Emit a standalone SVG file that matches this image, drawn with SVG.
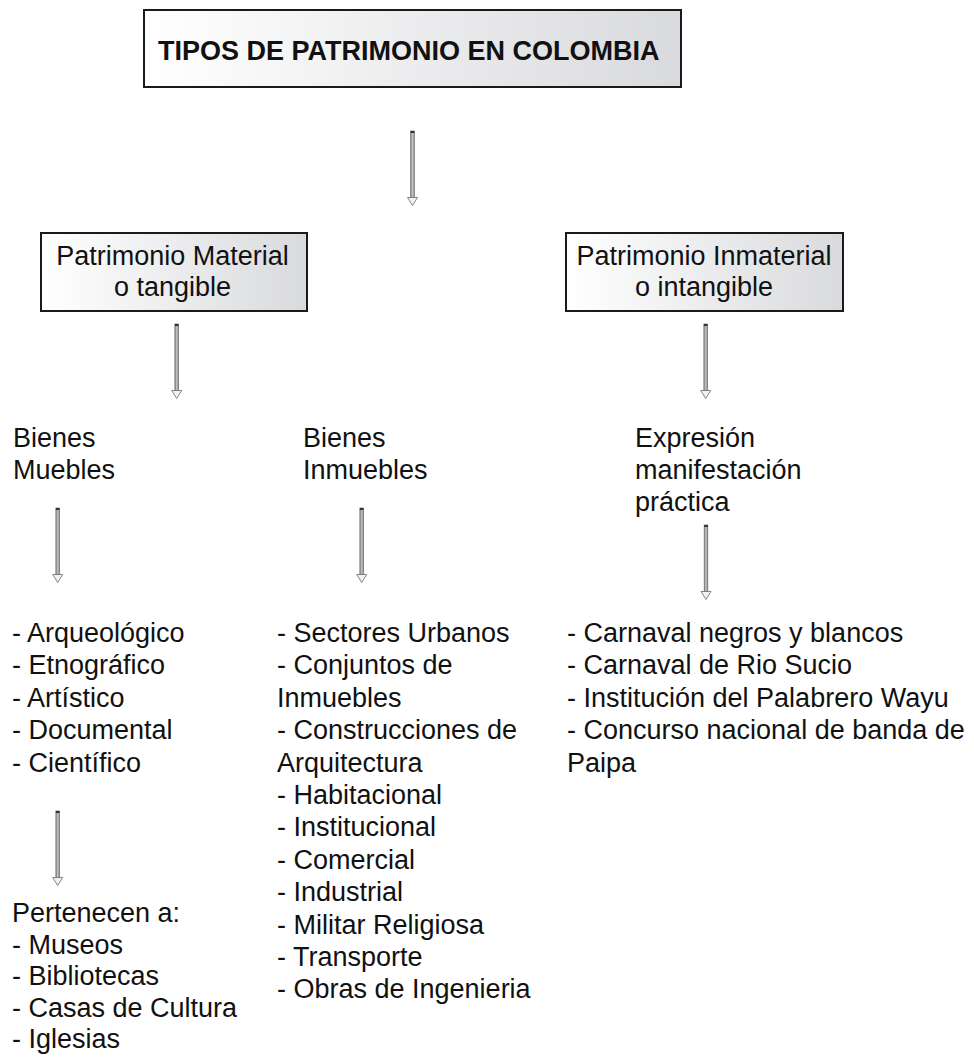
<svg xmlns="http://www.w3.org/2000/svg" width="974" height="1063" viewBox="0 0 974 1063">
<style>
text{font-family:"Liberation Sans",Arial,sans-serif;font-size:27px;fill:#111}
.title{font-weight:bold}
.box{fill:url(#bg);stroke:#1a1a1a;stroke-width:2}
.c{text-anchor:middle}
</style>
<defs>
<linearGradient id="bg" x1="0" y1="0" x2="1" y2="0">
<stop offset="0" stop-color="#ffffff"/>
<stop offset="1" stop-color="#d9dadd"/>
</linearGradient>
<linearGradient id="sg" x1="0" y1="0" x2="1" y2="0">
<stop offset="0" stop-color="#8a8a8a"/>
<stop offset="0.5" stop-color="#c4c4c4"/>
<stop offset="1" stop-color="#8a8a8a"/>
</linearGradient>
<g id="arrow">
<rect x="-1.8" y="0" width="3.6" height="67" fill="url(#sg)" stroke="#666" stroke-width="0.7"/>
<rect x="-1.8" y="0" width="3.6" height="2" fill="#333"/>
<path d="M-5,66.5 L5,66.5 L0,74.5 Z" fill="#f2f2f2" stroke="#777" stroke-width="0.9" stroke-linejoin="round"/>
</g>
</defs>

<g id="connectors">
<use href="#arrow" x="412.5" y="131"/>
<use href="#arrow" x="176.7" y="324"/>
<use href="#arrow" x="705.7" y="324"/>
<use href="#arrow" x="57.7" y="508"/>
<use href="#arrow" x="361.7" y="508"/>
<use href="#arrow" x="706" y="525"/>
<use href="#arrow" x="57.7" y="811"/>
</g>

<g id="title">
<rect class="box" x="144" y="10" width="537" height="77" stroke-width="2.5"/>
<text class="title" x="158" y="59.5">TIPOS DE PATRIMONIO EN COLOMBIA</text>
</g>

<g id="material">
<rect class="box" x="41" y="233" width="266" height="78"/>
<text class="c" x="172.5" y="265">Patrimonio Material</text>
<text class="c" x="172.5" y="296">o tangible</text>
</g>

<g id="inmaterial">
<rect class="box" x="566" y="233" width="277" height="78"/>
<text class="c" x="704" y="265">Patrimonio Inmaterial</text>
<text class="c" x="704" y="296">o intangible</text>
</g>

<g id="muebles">
<text x="13" y="447">Bienes</text>
<text x="13" y="479">Muebles</text>
</g>

<g id="inmuebles">
<text x="303" y="447">Bienes</text>
<text x="303" y="479">Inmuebles</text>
</g>

<g id="expresion">
<text x="635" y="447">Expresión</text>
<text x="635" y="479">manifestación</text>
<text x="635" y="511">práctica</text>
</g>

<g id="lista-muebles">
<text x="12" y="642">- Arqueológico</text>
<text x="12" y="674.4">- Etnográfico</text>
<text x="12" y="706.8">- Artístico</text>
<text x="12" y="739.2">- Documental</text>
<text x="12" y="771.6">- Científico</text>
</g>

<g id="pertenecen">
<text x="12" y="922">Pertenecen a:</text>
<text x="12" y="953.5">- Museos</text>
<text x="12" y="985">- Bibliotecas</text>
<text x="12" y="1016.5">- Casas de Cultura</text>
<text x="12" y="1048">- Iglesias</text>
</g>

<g id="lista-inmuebles">
<text x="277" y="642">- Sectores Urbanos</text>
<text x="277" y="674.4">- Conjuntos de</text>
<text x="277" y="706.8">Inmuebles</text>
<text x="277" y="739.2">- Construcciones de</text>
<text x="277" y="771.6">Arquitectura</text>
<text x="277" y="804">- Habitacional</text>
<text x="277" y="836.4">- Institucional</text>
<text x="277" y="868.8">- Comercial</text>
<text x="277" y="901.2">- Industrial</text>
<text x="277" y="933.6">- Militar Religiosa</text>
<text x="277" y="966">- Transporte</text>
<text x="277" y="998.4">- Obras de Ingenieria</text>
</g>

<g id="lista-inmaterial">
<text x="567" y="642">- Carnaval negros y blancos</text>
<text x="567" y="674.4">- Carnaval de Rio Sucio</text>
<text x="567" y="706.8">- Institución del Palabrero Wayu</text>
<text x="567" y="739.2">- Concurso nacional de banda de</text>
<text x="567" y="771.6">Paipa</text>
</g>
</svg>
